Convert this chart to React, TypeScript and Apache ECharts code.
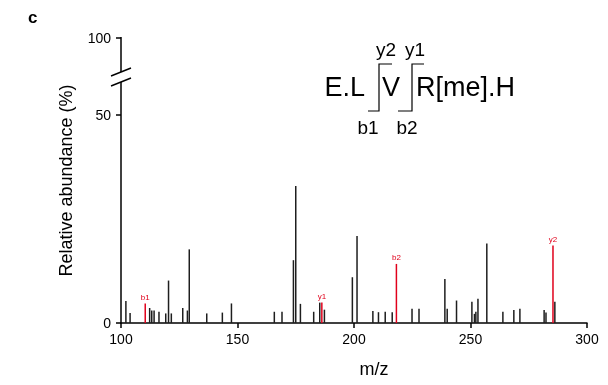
import React, { useEffect, useRef } from "react";
import * as echarts from "echarts";

// Unassigned fragment peaks (m/z, relative abundance %)
const peakMz = [
  102.1, 103.9, 112.3, 113.2, 114.2, 116.3, 119.2, 120.4, 121.6, 126.5,
  128.5, 129.3, 136.8, 143.5, 147.4, 165.8, 169.1, 174.0, 175.0, 177.0,
  182.7, 185.3, 187.3, 199.3, 201.3, 208.1, 210.5, 213.4, 216.4, 224.9,
  227.9, 239.0, 240.0, 244.0, 250.6, 251.7, 252.3, 253.2, 257.0, 263.9,
  268.6, 271.2, 281.6, 282.4, 286.2,
];
const peakAbundance = [
  5.3, 2.4, 3.6, 3.0, 3.0, 2.7, 2.3, 10.2, 2.3, 3.6,
  3.0, 17.7, 2.3, 2.5, 4.7, 2.7, 2.7, 15.1, 32.9, 4.6,
  2.7, 4.9, 3.2, 11.0, 20.9, 2.9, 2.6, 2.7, 2.6, 3.4,
  3.4, 10.6, 3.4, 5.4, 5.1, 2.2, 2.7, 5.8, 19.1, 2.7,
  3.1, 3.4, 3.1, 2.5, 5.1,
];

// Assigned fragment ions
const ionMz = [110.4, 186.2, 218.2, 285.4];
const ionAbundance = [4.7, 4.9, 14.2, 18.6];
const ionLabels = ["b1", "y1", "b2", "y2"];

// Axis ticks (the top of the broken y axis is labelled 100)
const yTickValues = [0, 50, 68.5];
const yTickLabels = ["0", "50", "100"];

const RED = "#e0001b";
const BLACK = "#1e1e1e";
const FONT = "'Liberation Sans', Arial, sans-serif";

export default function App() {
  const ref = useRef<HTMLDivElement>(null);
  useEffect(() => {
    const chart = echarts.init(ref.current!, null, { renderer: "svg" });
    const data: any[] = peakMz.map((m, i) => ({ value: [m, peakAbundance[i]] }));
    ionMz.forEach((m, i) => {
      data.push({
        value: [m, ionAbundance[i]],
        itemStyle: { color: RED },
        label: {
          show: true,
          position: "top",
          distance: 2,
          formatter: ionLabels[i],
          color: RED,
          fontSize: 8,
          fontFamily: FONT,
        },
      });
    });

    const labelIdx = (v: number) => yTickValues.indexOf(v);

    chart.setOption({
      animation: false,
      grid: { left: 121, right: 21, top: 38, bottom: 62, containLabel: false },
      xAxis: {
        type: "value",
        min: 100,
        max: 300,
        interval: 50,
        name: "m/z",
        nameLocation: "middle",
        nameGap: 37,
        nameTextStyle: { fontSize: 18, color: "#000", fontFamily: FONT, padding: [0, 0, 0, 40] },
        axisLine: { show: true, lineStyle: { color: "#000", width: 1.5 } },
        axisTick: { show: true, length: 5, lineStyle: { color: "#000", width: 1.5 } },
        axisLabel: { fontSize: 14, color: "#000", fontFamily: FONT, margin: 9 },
        splitLine: { show: false },
      },
      yAxis: {
        type: "value",
        min: 0,
        max: 68.5,
        name: "Relative abundance (%)",
        nameLocation: "middle",
        nameGap: 46,
        nameTextStyle: { fontSize: 18, color: "#000", fontFamily: FONT },
        axisLine: { show: false },
        axisTick: {
          show: true,
          length: 5,
          customValues: yTickValues,
          lineStyle: { color: "#000", width: 1.5 },
        },
        axisLabel: {
          fontSize: 14,
          color: "#000",
          fontFamily: FONT,
          margin: 10,
          customValues: yTickValues,
          formatter: (v: number) => {
            const i = labelIdx(v);
            return i >= 0 ? yTickLabels[i] : "";
          },
        },
        splitLine: { show: false },
      },
      series: [
        {
          type: "bar",
          data,
          barWidth: 1.5,
          itemStyle: { color: BLACK },
          label: { show: false },
        },
      ],
      graphic: [
        { type: "text", left: 28, top: 9, style: { text: "c", fontSize: 17, fontWeight: "bold", fontFamily: FONT, fill: "#000" } },
        // broken y-axis line
        { type: "line", shape: { x1: 121, y1: 37, x2: 121, y2: 72 }, style: { stroke: "#000", lineWidth: 1.5 } },
        { type: "line", shape: { x1: 121, y1: 82, x2: 121, y2: 323.5 }, style: { stroke: "#000", lineWidth: 1.5 } },
        { type: "line", shape: { x1: 111, y1: 76, x2: 131, y2: 68 }, style: { stroke: "#000", lineWidth: 1.5 } },
        { type: "line", shape: { x1: 111, y1: 86, x2: 131, y2: 78 }, style: { stroke: "#000", lineWidth: 1.5 } },
        // sequence annotation
        { type: "text", x: 365, y: 87, style: { text: "E.L", fontSize: 27, fontFamily: FONT, fill: "#000", textAlign: "right", textVerticalAlign: "middle" } },
        { type: "text", x: 391, y: 87, style: { text: "V", fontSize: 27, fontFamily: FONT, fill: "#000", textAlign: "center", textVerticalAlign: "middle" } },
        { type: "text", x: 416, y: 87, style: { text: "R[me].H", fontSize: 27, fontFamily: FONT, fill: "#000", textAlign: "left", textVerticalAlign: "middle" } },
        { type: "polyline", shape: { points: [[368, 111], [379, 111], [379, 64], [392, 64]] }, style: { stroke: "#000", lineWidth: 1.2, fill: null } },
        { type: "polyline", shape: { points: [[398, 111], [412, 111], [412, 64], [424, 64]] }, style: { stroke: "#000", lineWidth: 1.2, fill: null } },
        { type: "text", x: 386, y: 49, style: { text: "y2", fontSize: 19, fontFamily: FONT, fill: "#000", textAlign: "center", textVerticalAlign: "middle" } },
        { type: "text", x: 415, y: 49, style: { text: "y1", fontSize: 19, fontFamily: FONT, fill: "#000", textAlign: "center", textVerticalAlign: "middle" } },
        { type: "text", x: 368, y: 127, style: { text: "b1", fontSize: 19, fontFamily: FONT, fill: "#000", textAlign: "center", textVerticalAlign: "middle" } },
        { type: "text", x: 407, y: 127, style: { text: "b2", fontSize: 19, fontFamily: FONT, fill: "#000", textAlign: "center", textVerticalAlign: "middle" } },
      ],
    });
    return () => chart.dispose();
  }, []);
  return <div ref={ref} style={{ position: "fixed", left: 0, top: 0, width: 608, height: 385 }} />;
}
